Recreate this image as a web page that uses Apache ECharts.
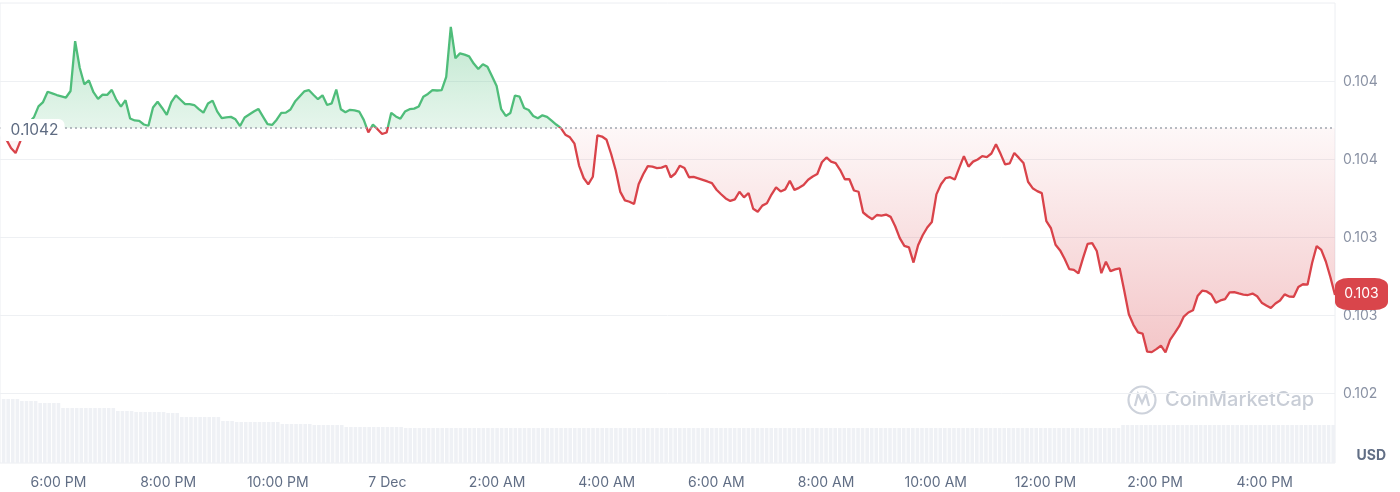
<!DOCTYPE html>
<html>
<head>
<meta charset="utf-8">
<script src="https://cdn.jsdelivr.net/npm/echarts@6/dist/echarts.min.js"></script>
<style>
html,body{margin:0;padding:0;background:#fff;}
#chart{width:1400px;height:492px;}
</style>
</head>
<body>
<div id="chart"></div>
<script>
// ---- data ----
const START = new Date(2023, 11, 6, 17, 0).getTime();   // first 5-minute sample
const STEP_MIN = 5;
const AXIS_MIN_OFFSET_MIN = -2;
const BASE_PRICE = 0.1042;
const LABEL_EVERY_HOURS = 2;
const monthNames = ['Jan','Feb','Mar','Apr','May','Jun','Jul','Aug','Sep','Oct','Nov','Dec'];

const price = [
0.104175,0.104126,0.104072,0.104040,0.104113,0.104187,0.104237,0.104269,0.104339,0.104367,
0.104433,0.104423,0.104412,0.104404,0.104396,0.104438,0.104757,0.104587,0.104481,0.104506,
0.104430,0.104387,0.104415,0.104413,0.104445,0.104381,0.104338,0.104379,0.104262,0.104249,
0.104246,0.104223,0.104215,0.104332,0.104369,0.104329,0.104285,0.104367,0.104410,0.104382,
0.104354,0.104354,0.104348,0.104322,0.104299,0.104358,0.104376,0.104307,0.104264,0.104269,
0.104272,0.104256,0.104213,0.104268,0.104287,0.104306,0.104323,0.104274,0.104225,0.104220,
0.104254,0.104298,0.104299,0.104319,0.104370,0.104403,0.104435,0.104444,0.104414,0.104385,
0.104410,0.104348,0.104358,0.104447,0.104321,0.104302,0.104317,0.104314,0.104306,0.104253,
0.104172,0.104222,0.104193,0.104162,0.104172,0.104298,0.104275,0.104260,0.104306,0.104321,
0.104325,0.104338,0.104401,0.104419,0.104444,0.104441,0.104444,0.104528,0.104849,0.104648,
0.104679,0.104671,0.104660,0.104614,0.104579,0.104609,0.104593,0.104532,0.104470,0.104321,
0.104278,0.104297,0.104409,0.104402,0.104329,0.104316,0.104278,0.104263,0.104282,0.104272,
0.104248,0.104223,0.104201,0.104158,0.104141,0.104100,0.103960,0.103880,0.103839,0.103888,
0.104154,0.104146,0.104125,0.104034,0.103928,0.103791,0.103737,0.103728,0.103713,0.103840,
0.103904,0.103956,0.103953,0.103944,0.103947,0.103959,0.103885,0.103909,0.103959,0.103944,
0.103885,0.103887,0.103878,0.103868,0.103858,0.103847,0.103805,0.103776,0.103749,0.103733,
0.103743,0.103792,0.103756,0.103784,0.103683,0.103664,0.103703,0.103718,0.103774,0.103820,
0.103794,0.103807,0.103862,0.103804,0.103817,0.103835,0.103869,0.103890,0.103906,0.103981,
0.104012,0.103985,0.103976,0.103931,0.103872,0.103872,0.103800,0.103792,0.103659,0.103635,
0.103616,0.103643,0.103639,0.103646,0.103631,0.103571,0.103495,0.103445,0.103435,0.103338,
0.103449,0.103513,0.103563,0.103598,0.103775,0.103840,0.103879,0.103885,0.103870,0.103947,
0.104020,0.103953,0.103985,0.103999,0.104020,0.104014,0.104037,0.104097,0.104035,0.103967,
0.103974,0.104041,0.104009,0.103976,0.103856,0.103815,0.103796,0.103783,0.103603,0.103558,
0.103452,0.103416,0.103361,0.103296,0.103291,0.103269,0.103366,0.103458,0.103463,0.103412,
0.103270,0.103344,0.103283,0.103294,0.103301,0.103157,0.103007,0.102939,0.102891,0.102883,
0.102767,0.102764,0.102783,0.102805,0.102762,0.102843,0.102886,0.102930,0.102992,0.103018,
0.103032,0.103123,0.103158,0.103153,0.103133,0.103081,0.103095,0.103103,0.103147,0.103148,
0.103140,0.103133,0.103130,0.103139,0.103122,0.103081,0.103063,0.103047,0.103076,0.103095,
0.103134,0.103120,0.103119,0.103181,0.103199,0.103196,0.103335,0.103444,0.103419,0.103345,
0.103244,0.103130
];

const volume = [
640,640,640,640,620,620,620,620,600,600,
600,600,600,550,550,550,550,550,550,550,
550,550,550,550,550,520,520,520,520,510,
510,510,510,510,510,510,500,500,500,460,
460,460,460,460,460,460,460,460,420,420,
420,410,410,410,410,410,410,410,410,410,
410,390,390,390,390,390,390,390,380,380,
380,380,380,380,380,360,360,360,360,360,
360,360,360,360,360,360,360,360,350,350,
350,350,350,350,350,350,350,350,350,350,
350,350,350,350,350,350,350,350,350,350,
350,350,350,350,350,350,350,350,350,350,
350,350,350,350,350,350,350,350,350,350,
350,350,350,350,350,350,350,350,350,350,
350,350,350,350,350,350,350,350,350,350,
350,350,350,350,350,350,350,350,350,350,
350,350,350,350,350,350,350,350,350,350,
350,350,350,350,350,350,350,350,350,350,
350,350,350,350,350,350,350,350,350,350,
350,350,350,350,350,350,350,350,350,350,
350,350,350,350,350,350,350,350,350,350,
350,350,350,350,350,350,350,350,350,350,
350,350,350,350,350,350,350,350,350,350,
350,350,350,350,350,350,350,350,350,350,
350,350,350,350,350,380,380,380,380,380,
380,380,380,380,380,380,380,380,380,380,
380,380,380,380,380,380,380,380,380,380,
380,380,380,380,380,380,380,380,380,380,
380,380,380,380,380,380,380,380,380,380,
380,380
];

// ---- build ----
const times = price.map((_, i) => START + i * STEP_MIN * 60000);
const axisMin = START + AXIS_MIN_OFFSET_MIN * 60000;
const axisMax = times[times.length - 1];
const lastPrice = price[price.length - 1];
const pMax = Math.max(...price), pMin = Math.min(...price);
const f = (pMax - BASE_PRICE) / (pMax - pMin);

const GREEN = '#4fbd7a', RED = '#d9434a';
const lineGrad = new echarts.graphic.LinearGradient(0, 0, 0, 1, [
  {offset: 0, color: GREEN}, {offset: f, color: GREEN},
  {offset: f, color: RED}, {offset: 1, color: RED}
]);
const areaGrad = new echarts.graphic.LinearGradient(0, 0, 0, 1, [
  {offset: 0, color: 'rgba(79,189,122,0.36)'},
  {offset: f, color: 'rgba(79,189,122,0.14)'},
  {offset: f, color: 'rgba(217,67,74,0.04)'},
  {offset: 1, color: 'rgba(217,67,74,0.30)'}
]);

function fmtTime(v) {
  const d = new Date(v);
  const h = d.getHours();
  if (d.getMinutes() !== 0 || h % LABEL_EVERY_HOURS !== 0) return '';
  if (h === 0) return d.getDate() + ' ' + monthNames[d.getMonth()];
  const h12 = h % 12 === 0 ? 12 : h % 12;
  return h12 + ':00 ' + (h < 12 ? 'AM' : 'PM');
}

const FONT = 'Inter, "Noto Sans", sans-serif';
const chart = echarts.init(document.getElementById('chart'), null, {renderer: 'canvas'});
chart.setOption({
  animation: false,
  backgroundColor: '#ffffff',
  textStyle: {fontFamily: FONT},
  title: {
    text: 'USD', right: 14, top: 449, padding: 0,
    textStyle: {fontSize: 14, fontWeight: 'bold', color: '#616e85', fontFamily: FONT}
  },
  grid: [
    {left: 0, right: 65, top: 3, bottom: 29, show: true, borderColor: '#eceef2', borderWidth: 1, backgroundColor: 'transparent', outerBoundsMode: 'none'},
    {left: 0, right: 65, top: 3.3, bottom: 20.7, outerBoundsMode: 'none'}
  ],
  xAxis: [
    {
      type: 'time', gridIndex: 0, min: axisMin, max: axisMax,
      minInterval: 3600000, maxInterval: 3600000,
      axisLine: {show: false}, axisTick: {show: false}, splitLine: {show: false},
      axisLabel: {formatter: fmtTime, color: '#616e85', fontSize: 14, margin: 13,
        showMinLabel: false, showMaxLabel: false, hideOverlap: false, fontFamily: FONT}
    },
    {type: 'time', gridIndex: 1, min: axisMin, max: axisMax, show: false}
  ],
  yAxis: [
    {type: 'value', gridIndex: 0, min: 0, max: 4600, show: false},
    {
      type: 'value', gridIndex: 1, position: 'right',
      min: 0.102, max: 0.105, interval: 0.0005,
      axisLine: {show: false}, axisTick: {show: false},
      splitLine: {show: true, showMinLine: false, showMaxLine: false, lineStyle: {color: '#eef0f3', width: 1}},
      axisLabel: {
        formatter: v => v.toFixed(3), color: '#8a92a4', fontSize: 14, margin: 8,
        showMinLabel: false, showMaxLabel: false, fontFamily: FONT
      }
    }
  ],
  graphic: [{
    type: 'group', left: 1126, top: 384, silent: true,
    children: [
      {type: 'circle', shape: {cx: 15, cy: 15, r: 13.5}, style: {fill: 'none', stroke: '#cdd2db', lineWidth: 2.2}},
      {type: 'polyline', shape: {points: [[8, 21], [11, 9], [15, 18], [19, 9], [22, 21]]}, style: {fill: 'none', stroke: '#cdd2db', lineWidth: 2.2}},
      {type: 'text', x: 38, y: 15, style: {text: 'CoinMarketCap', fontSize: 20, fontWeight: 500, fill: '#c8cdd6', fontFamily: FONT, verticalAlign: 'middle'}}
    ]
  }],
  series: [
    {
      type: 'bar', xAxisIndex: 0, yAxisIndex: 0, silent: true,
      data: times.map((t, i) => [t, volume[i]]),
      barWidth: 3.6, itemStyle: {color: '#eff1f5'}, z: 1
    },
    {
      type: 'line', xAxisIndex: 1, yAxisIndex: 1, silent: true,
      data: times.map((t, i) => [t, price[i]]),
      showSymbol: false, symbol: 'none', z: 3,
      lineStyle: {width: 2.3, color: lineGrad},
      areaStyle: {origin: BASE_PRICE, color: areaGrad, opacity: 1},
      markPoint: {
        silent: true,
        symbol: 'roundRect', symbolSize: [53, 32], symbolOffset: [26.5, -1],
        itemStyle: {color: '#d9454b'},
        label: {show: true, position: 'inside', formatter: lastPrice.toFixed(3), color: '#ffffff', fontSize: 14, fontFamily: FONT},
        data: [{coord: [axisMax, lastPrice], value: lastPrice}]
      }
    },
    {
      // opening-price reference line
      type: 'line', xAxisIndex: 1, yAxisIndex: 1, silent: true, z: 4,
      data: [[axisMin, BASE_PRICE], [axisMax, BASE_PRICE]],
      showSymbol: false, symbol: 'none',
      lineStyle: {type: [2, 3], color: '#a0a5af', width: 1.5},
      markPoint: {
        silent: true, symbol: 'rect', symbolSize: 1, itemStyle: {color: 'rgba(0,0,0,0)'},
        label: {
          show: true, position: 'right', distance: 0, offset: [0, 2],
          formatter: String(BASE_PRICE), color: '#5e6b82', fontSize: 15.5, fontFamily: FONT,
          backgroundColor: '#ffffff', borderRadius: 6, padding: [3, 6, 2, 10], lineHeight: 17
        },
        data: [{coord: [axisMin, BASE_PRICE]}]
      }
    }
  ]
});
</script>
</body>
</html>
